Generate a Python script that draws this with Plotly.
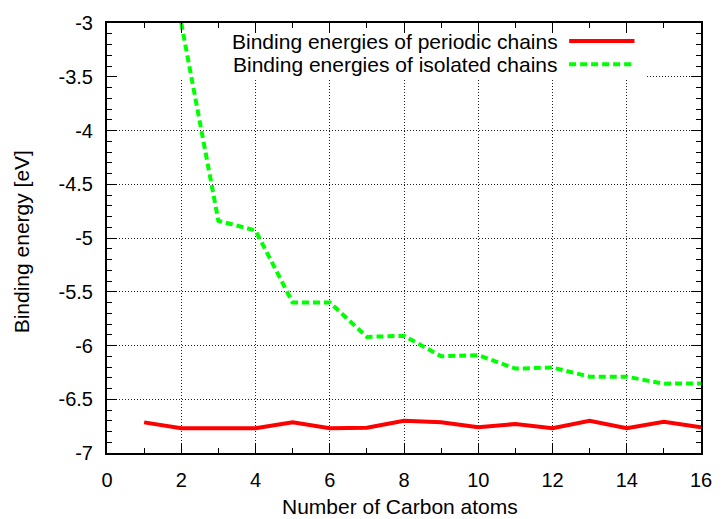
import plotly.graph_objects as go

# Data
n_periodic = [1, 2, 3, 4, 5, 6, 7, 8, 9, 10, 11, 12, 13, 14, 15, 16]
e_periodic = [-6.715, -6.77, -6.77, -6.77, -6.715, -6.77, -6.765, -6.70, -6.715,
              -6.76, -6.73, -6.77, -6.70, -6.77, -6.71, -6.76]
n_isolated = [2, 3, 4, 5, 6, 7, 8, 9, 10, 11, 12, 13, 14, 15, 16]
e_isolated = [-3.0, -4.84, -4.93, -5.60, -5.60, -5.92, -5.91, -6.10, -6.09,
              -6.215, -6.205, -6.29, -6.29, -6.355, -6.353]
series_names = ["Binding energies of periodic chains", "Binding energies of isolated chains"]
x_title = "Number of Carbon atoms"
y_title = "Binding energy [eV]"
x_tickvals = [0, 2, 4, 6, 8, 10, 12, 14, 16]
x_ticktext = ["0", "2", "4", "6", "8", "10", "12", "14", "16"]
y_tickvals = [-7, -6.5, -6, -5.5, -5, -4.5, -4, -3.5, -3]
y_ticktext = ["-7", "-6.5", "-6", "-5.5", "-5", "-4.5", "-4", "-3.5", "-3"]

FONT = "Liberation Sans, Arial, sans-serif"
RED = "#ff0000"
GREEN = "#00ff00"

fig = go.Figure()
fig.add_trace(go.Scatter(x=n_periodic, y=e_periodic, mode="lines",
                         line=dict(color=RED, width=4), showlegend=False, cliponaxis=True))
fig.add_trace(go.Scatter(x=n_isolated, y=e_isolated, mode="lines",
                         line=dict(color=GREEN, width=4, dash="7px,4px"),
                         showlegend=False, cliponaxis=True))
# helper trace for mirrored tick axes
fig.add_trace(go.Scatter(x=[], y=[], xaxis="x2", yaxis="y2", showlegend=False))

grid = dict(showgrid=True, gridcolor="#222", gridwidth=1, griddash="1px,2px")
common_tick = dict(ticks="inside", ticklen=10, tickwidth=1, tickcolor="black")

fig.update_layout(
    width=724, height=519,
    margin=dict(l=107, r=13, t=17, b=66),
    paper_bgcolor="white", plot_bgcolor="white",
    font=dict(family=FONT, size=20, color="black"),
    xaxis=dict(range=[0, 16], tickmode="array", tickvals=x_tickvals, ticktext=x_ticktext,
               zeroline=False,
               showline=True, linecolor="black", linewidth=2, mirror=True,
               minor=dict(ticks="inside", dtick=1, tick0=0, ticklen=5, tickcolor="black", showgrid=False),
               ticklabelstandoff=8,
               tickfont=dict(family=FONT, size=20),
               **grid, **common_tick),
    yaxis=dict(range=[-7, -3], tickmode="array", tickvals=y_tickvals, ticktext=y_ticktext,
               zeroline=False,
               showline=True, linecolor="black", linewidth=2, mirror=True,
               minor=dict(ticks="inside", dtick=0.1, tick0=-7, ticklen=5, tickcolor="black", showgrid=False),
               ticklabelstandoff=8,
               tickfont=dict(family=FONT, size=20),
               **grid, **common_tick),
    xaxis2=dict(range=[0, 16], overlaying="x", side="top", anchor="y2",
                dtick=2, tick0=0, showticklabels=False, showgrid=False, zeroline=False,
                showline=False,
                minor=dict(ticks="inside", dtick=1, ticklen=5, tickcolor="black"),
                **common_tick),
    yaxis2=dict(range=[-7, -3], overlaying="y", side="right", anchor="x2",
                dtick=0.5, tick0=-7, showticklabels=False, showgrid=False, zeroline=False,
                showline=False,
                minor=dict(ticks="inside", dtick=0.1, ticklen=5, tickcolor="black"),
                **common_tick),
    showlegend=False,
)

# white key region (grid excluded under the key, like gnuplot)
fig.add_shape(type="rect", xref="x", yref="y", x0=0.02, x1=14.52, y0=-3.53, y1=-3.0,
              fillcolor="white", line=dict(width=0), layer="between")

# axis titles
fig.add_annotation(text=x_title, xref="paper", yref="paper", x=0.494, y=-0.124,
                   showarrow=False, font=dict(family=FONT, size=21), xanchor="center", yanchor="middle")
fig.add_annotation(text=y_title, xref="paper", yref="paper", x=-0.144, y=0.491,
                   showarrow=False, textangle=-90, font=dict(family=FONT, size=21),
                   xanchor="center", yanchor="middle")

# key
key_y = [0.958, 0.904]
key_colors = [RED, GREEN]
key_dash = ["solid", "7px,4px"]
for name, yk, col, dsh in zip(series_names, key_y, key_colors, key_dash):
    fig.add_annotation(text=name, xref="paper", yref="paper", x=0.762, y=yk,
                       xanchor="right", yanchor="middle", showarrow=False,
                       font=dict(family=FONT, size=21))
    fig.add_shape(type="line", xref="paper", yref="paper", x0=0.778, x1=0.888, y0=yk, y1=yk,
                  line=dict(color=col, width=4, dash=dsh))

fig.write_html("out.html")
